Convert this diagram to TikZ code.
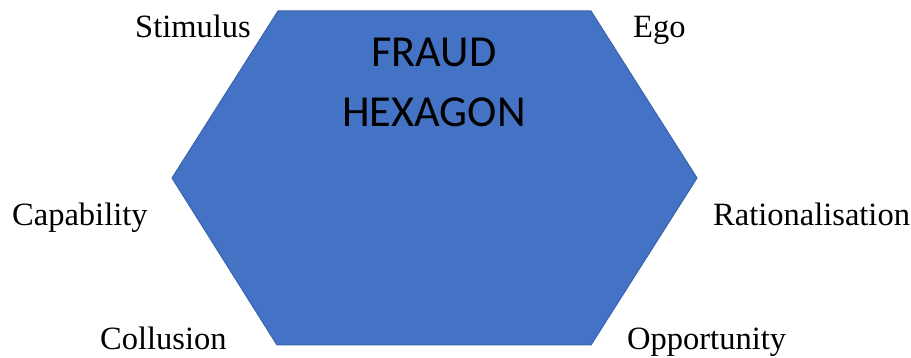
\documentclass[tikz,border=0pt]{standalone}
\usepackage{fontspec}
\setmainfont{Liberation Serif}
\newfontfamily\calib{Carlito}
\definecolor{hexfill}{HTML}{4472C4}
\definecolor{hexedge}{HTML}{3A63AE}
\begin{document}
\begin{tikzpicture}[x=1pt,y=1pt,
  corner/.style={font=\fontsize{32.5}{38}\selectfont, anchor=base west, inner sep=0pt},
  title/.style={font=\calib\fontsize{44.3}{60}\selectfont, align=center, inner sep=0pt}]
\useasboundingbox (0,0) rectangle (911,358);
% hexagon corners
\coordinate (tl) at (278,347);
\coordinate (tr) at (591,347);
\coordinate (r)  at (697,180);
\coordinate (br) at (591,13);
\coordinate (bl) at (277,13);
\coordinate (l)  at (172,180);
\fill[hexfill, draw=hexedge, line width=1pt, line join=miter] (tl) -- (tr) -- (r) -- (br) -- (bl) -- (l) -- cycle;
% title
\node[title, anchor=base] (t1) at (434,291) {FRAUD};
\node[title, anchor=base] (t2) at (434,231) {HEXAGON};
% corner labels
\node[corner] (stim) at (135,320) {Stimulus};
\node[corner] (ego)  at (633,320) {Ego};
\node[corner] (cap)  at (12,132) {Capability};
\node[corner] (rat)  at (713,132) {Rationalisation};
\node[corner] (col)  at (100,8.5) {Collusion};
\node[corner] (opp)  at (627,8.5) {Opportunity};
\end{tikzpicture}
\end{document}
